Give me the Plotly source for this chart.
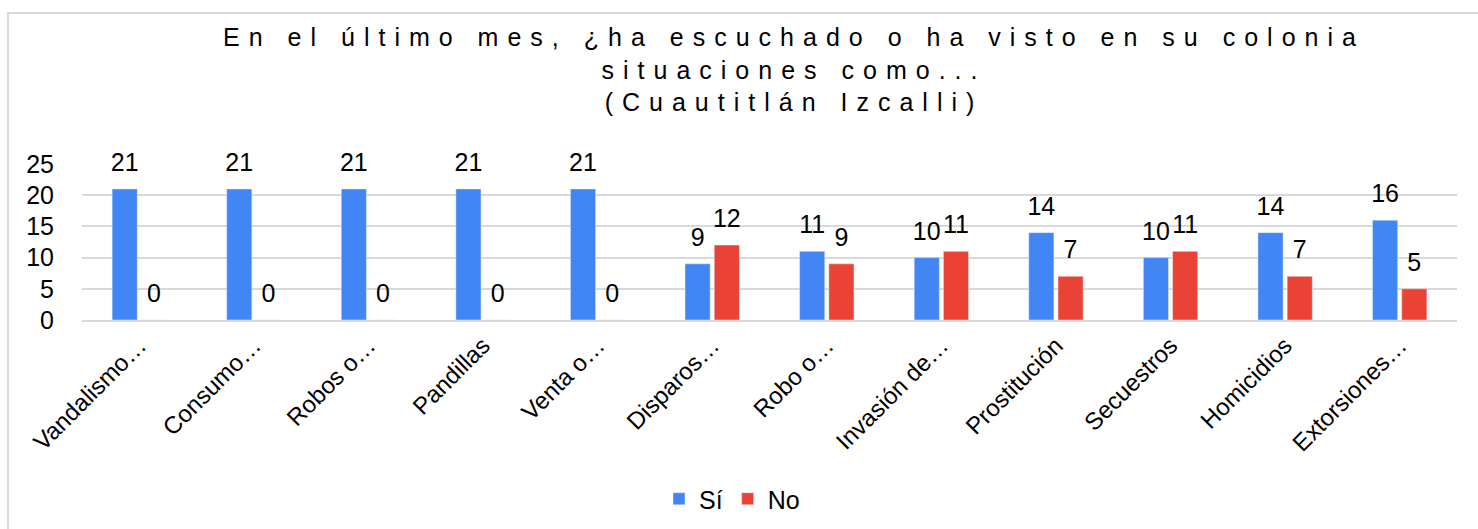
import plotly.graph_objects as go

categories = ["Vandalismo…", "Consumo…", "Robos o…", "Pandillas", "Venta o…", "Disparos…",
              "Robo o…", "Invasión de…", "Prostitución", "Secuestros", "Homicidios", "Extorsiones…"]
si_values = [21, 21, 21, 21, 21, 9, 11, 10, 14, 10, 14, 16]
no_values = [0, 0, 0, 0, 0, 12, 9, 11, 7, 11, 7, 5]
y_ticks = [0, 5, 10, 15, 20, 25]
title_text = "En el último mes, ¿ha escuchado o ha visto en su colonia<br>situaciones como...<br>(Cuautitlán Izcalli)"

W, H = 1478, 529
L, R, T, B = 82, 21, 164, 209
pw, ph = W - L - R, H - T - B
FONT = "Liberation Sans, Arial, sans-serif"

fig = go.Figure()
fig.add_trace(go.Bar(name="Sí", x=categories, y=si_values, marker=dict(color="#4285F4"),
                     text=si_values, textposition="outside", cliponaxis=False, constraintext="none",
                     textfont=dict(size=25, color="#000000", family=FONT)))
fig.add_trace(go.Bar(name="No", x=categories, y=no_values, marker=dict(color="#EA4335"),
                     text=no_values, textposition="outside", cliponaxis=False, constraintext="none",
                     textfont=dict(size=25, color="#000000", family=FONT)))

fig.update_layout(
    width=W, height=H,
    margin=dict(l=L, r=R, t=T, b=B, autoexpand=False),
    paper_bgcolor="white", plot_bgcolor="white",
    font=dict(family=FONT, color="#000000"),
    barmode="group", bargap=0.49, bargroupgap=0.14,
    title=dict(text=title_text, x=794 / W, xref="container", xanchor="center",
               y=1 - 46 / H, yref="container", yanchor="top",
               font=dict(family="Liberation Sans Narrow, Arial Narrow, Liberation Sans, sans-serif", size=25, color="#000000")),
    legend=dict(orientation="h", x=(732 - L) / pw, xanchor="center", y=(H - B - 499) / ph, yanchor="middle",
                font=dict(size=25), itemwidth=30, traceorder="normal"),
    yaxis=dict(range=[0, 25], tickvals=y_ticks, showgrid=True, gridcolor="#d9d9d9", gridwidth=2,
               zeroline=False, showline=False, ticks="", tickfont=dict(size=25), ticklabelstandoff=27),
    xaxis=dict(tickangle=-45, tickfont=dict(size=24), showline=True, linecolor="#d9d9d9", linewidth=2, ticks=""),
    shapes=[dict(type="rect", xref="paper", yref="paper",
                 x0=(8 - L) / pw, x1=(W + 10 - L) / pw, y0=(H - B - (H + 10)) / ph, y1=(H - B - 13) / ph,
                 line=dict(color="#d9d9d9", width=2), fillcolor="rgba(0,0,0,0)", layer="above")],
)

post = """
document.body.style.margin='0';
var f=function(){
  document.querySelectorAll('.gtitle').forEach(function(e){e.style.letterSpacing='9px';});
  document.querySelectorAll('text.bartext').forEach(function(e){
    if(!e.dataset.shifted){var y=parseFloat(e.getAttribute('y')||'0'); e.setAttribute('y', y-10); e.dataset.shifted='1';}
  });
};
f(); setTimeout(f,50); setTimeout(f,300);
"""
fig.write_html("out.html", post_script=post, config={"displayModeBar": False})
